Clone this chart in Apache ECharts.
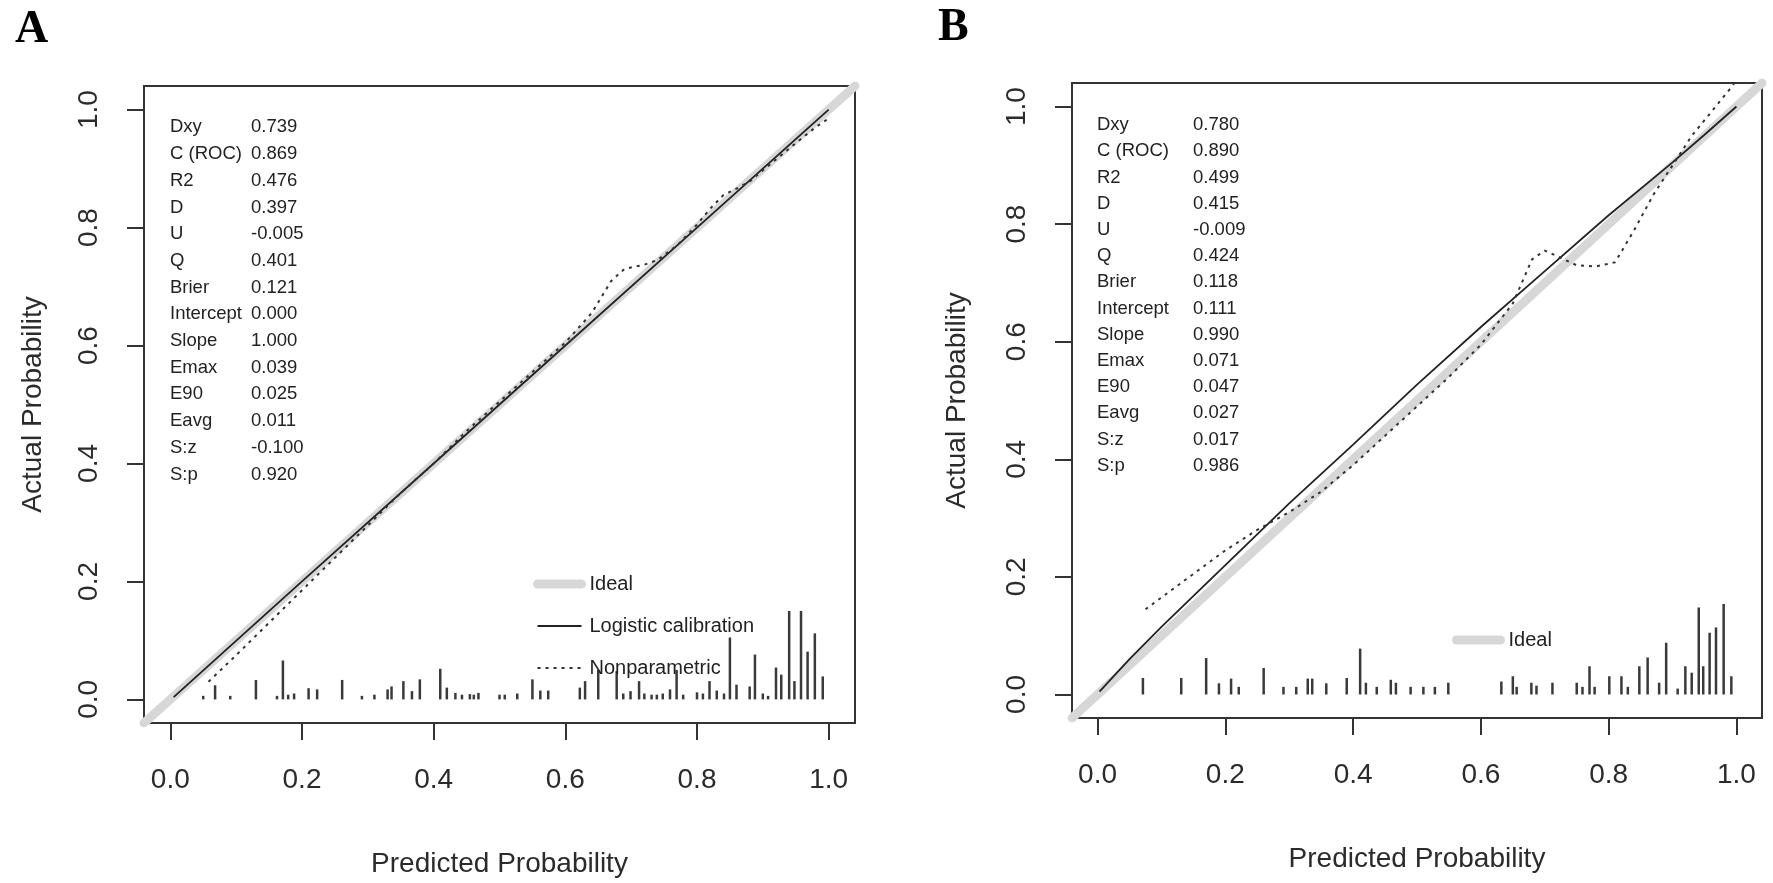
<!DOCTYPE html>
<html>
<head>
<meta charset="utf-8">
<title>Calibration curves</title>
<script src="https://cdn.jsdelivr.net/npm/echarts@6/dist/echarts.min.js"></script>
<style>
  html, body { margin: 0; padding: 0; background: #fff; }
  #main { width: 1773px; height: 883px; }
</style>
</head>
<body>
<div id="main"></div>
<script>
// stats printed in the top-left corner of each panel
const statNames = ['Dxy', 'C (ROC)', 'R2', 'D', 'U', 'Q', 'Brier', 'Intercept', 'Slope', 'Emax', 'E90', 'Eavg', 'S:z', 'S:p'];
const statsA = ['0.739', '0.869', '0.476', '0.397', '-0.005', '0.401', '0.121', '0.000', '1.000', '0.039', '0.025', '0.011', '-0.100', '0.920'];
const statsB = ['0.780', '0.890', '0.499', '0.415', '-0.009', '0.424', '0.118', '0.111', '0.990', '0.071', '0.047', '0.027', '0.017', '0.986'];

const tickValues = [0, 0.2, 0.4, 0.6, 0.8, 1.0];
const idealX = [-0.04, 1.04];

// panel A curves [predicted, actual]
const logisticA = [[0.005, 0.004], [0.2, 0.2], [0.4, 0.4], [0.6, 0.6], [0.8, 0.8], [1.0, 1.0]];
const nonparA = [[0.058, 0.03], [0.1, 0.075], [0.15, 0.13], [0.2, 0.185], [0.25, 0.24], [0.3, 0.295],
  [0.35, 0.35], [0.4, 0.4], [0.45, 0.455], [0.5, 0.505], [0.55, 0.555], [0.6, 0.605], [0.64, 0.655],
  [0.67, 0.71], [0.69, 0.73], [0.72, 0.737], [0.74, 0.745], [0.77, 0.77], [0.8, 0.805], [0.82, 0.832],
  [0.84, 0.855], [0.86, 0.866], [0.88, 0.878], [0.9, 0.897], [0.95, 0.943], [0.98, 0.97], [1.0, 0.985]];

// panel B curves
const logisticB = [[0.003, 0.005], [0.05, 0.06], [0.1, 0.115], [0.2, 0.22], [0.3, 0.325], [0.4, 0.425],
  [0.5, 0.527], [0.6, 0.625], [0.7, 0.72], [0.8, 0.815], [0.9, 0.905], [0.95, 0.952], [1.0, 1.0]];
const nonparB = [[0.075, 0.145], [0.1, 0.165], [0.15, 0.205], [0.2, 0.245], [0.25, 0.28], [0.3, 0.31],
  [0.35, 0.345], [0.4, 0.39], [0.45, 0.44], [0.5, 0.49], [0.55, 0.54], [0.6, 0.595], [0.65, 0.665],
  [0.68, 0.74], [0.7, 0.755], [0.72, 0.745], [0.75, 0.73], [0.78, 0.728], [0.81, 0.735], [0.84, 0.79],
  [0.87, 0.85], [0.9, 0.9], [0.93, 0.95], [0.96, 0.99], [0.99, 1.03], [1.0, 1.045]];

// spike histogram of predicted probabilities (position, height)
const histXA = [0.05, 0.068, 0.091, 0.13, 0.162, 0.171, 0.179, 0.188, 0.21, 0.223, 0.261, 0.291, 0.31, 0.33,
  0.336, 0.354, 0.367, 0.379, 0.41, 0.42, 0.433, 0.443, 0.455, 0.461, 0.468, 0.5, 0.508, 0.527, 0.55,
  0.562, 0.574, 0.622, 0.63, 0.65, 0.678, 0.688, 0.699, 0.712, 0.72, 0.731, 0.739, 0.748, 0.759, 0.769,
  0.779, 0.8, 0.809, 0.819, 0.83, 0.841, 0.85, 0.86, 0.88, 0.888, 0.9, 0.908, 0.92, 0.928, 0.94, 0.948,
  0.958, 0.968, 0.979, 0.991];
const histHA = [0.006, 0.024, 0.006, 0.033, 0.006, 0.066, 0.008, 0.01, 0.019, 0.017, 0.033, 0.006, 0.008, 0.017,
  0.022, 0.031, 0.014, 0.034, 0.052, 0.02, 0.011, 0.008, 0.009, 0.008, 0.011, 0.008, 0.008, 0.01, 0.034,
  0.015, 0.015, 0.02, 0.031, 0.05, 0.048, 0.01, 0.014, 0.031, 0.01, 0.008, 0.008, 0.01, 0.017, 0.05,
  0.008, 0.012, 0.01, 0.031, 0.015, 0.01, 0.105, 0.025, 0.022, 0.076, 0.01, 0.006, 0.054, 0.042, 0.15, 0.031,
  0.15, 0.081, 0.112, 0.039];
const histXB = [0.071, 0.131, 0.17, 0.19, 0.209, 0.221, 0.26, 0.291, 0.311, 0.329, 0.336, 0.358, 0.39, 0.411,
  0.42, 0.437, 0.459, 0.467, 0.49, 0.51, 0.528, 0.549, 0.632, 0.65, 0.656, 0.679, 0.687, 0.712, 0.75,
  0.759, 0.77, 0.778, 0.801, 0.82, 0.83, 0.848, 0.861, 0.879, 0.89, 0.908, 0.92, 0.93, 0.941, 0.948,
  0.958, 0.968, 0.98, 0.992];
const histHB = [0.028, 0.028, 0.062, 0.019, 0.027, 0.013, 0.045, 0.013, 0.013, 0.027, 0.027, 0.019, 0.028, 0.078,
  0.02, 0.013, 0.025, 0.02, 0.013, 0.013, 0.013, 0.02, 0.022, 0.031, 0.013, 0.02, 0.015, 0.02, 0.02,
  0.013, 0.048, 0.013, 0.031, 0.031, 0.013, 0.048, 0.063, 0.02, 0.088, 0.01, 0.048, 0.037, 0.148, 0.048,
  0.105, 0.114, 0.154, 0.031];

const font = '"Liberation Sans", Arial, sans-serif';
const ink = '#2b2b2b';

function makeX(gridIndex) {
  return {
    type: 'value', gridIndex: gridIndex, min: -0.04, max: 1.04,
    name: 'Predicted Probability', nameLocation: 'middle', nameGap: 127,
    nameTextStyle: { fontFamily: font, fontSize: 28, color: ink },
    axisLine: { show: false, onZero: false },
    axisTick: { show: true, length: 17, customValues: tickValues, lineStyle: { color: '#333', width: 2 } },
    axisLabel: { customValues: tickValues, margin: 43, fontFamily: font, fontSize: 28, color: ink,
      formatter: v => v.toFixed(1) },
    splitLine: { show: false }
  };
}

function makeY(gridIndex, gap) {
  return {
    type: 'value', gridIndex: gridIndex, min: -0.04, max: 1.04,
    name: 'Actual Probability', nameLocation: 'middle', nameGap: gap,
    nameTextStyle: { fontFamily: font, fontSize: 28, color: ink },
    axisLine: { show: false, onZero: false },
    axisTick: { show: true, length: 17, customValues: tickValues, lineStyle: { color: '#333', width: 2 } },
    axisLabel: { customValues: tickValues, rotate: 90, margin: 41, fontFamily: font, fontSize: 28, color: ink,
      formatter: v => v.toFixed(1) },
    splitLine: { show: false }
  };
}

function spikes(xs, hs, idx) {
  return {
    type: 'custom', xAxisIndex: idx, yAxisIndex: idx, silent: true, z: 3,
    data: xs.map((x, i) => [x, hs[i]]),
    renderItem: (params, api) => {
      const p0 = api.coord([api.value(0), 0]);
      const p1 = api.coord([api.value(0), api.value(1)]);
      return { type: 'line', shape: { x1: p0[0], y1: p0[1], x2: p1[0], y2: p1[1] },
        style: { stroke: '#3a3a3a', lineWidth: 2.5 } };
    }
  };
}

function curves(idx, logistic, nonpar) {
  const common = { type: 'line', xAxisIndex: idx, yAxisIndex: idx, symbol: 'none', silent: true,
    itemStyle: { color: 'rgba(0,0,0,0)' } };
  return [
    Object.assign({ name: 'Ideal', z: 2, data: idealX.map(v => [v, v]),
      lineStyle: { color: '#d7d7d7', width: 9, cap: 'round' } }, common),
    Object.assign({ name: 'Logistic calibration', z: 4, data: logistic,
      lineStyle: { color: '#222', width: 1.8 } }, common),
    Object.assign({ name: 'Nonparametric', z: 4, data: nonpar,
      lineStyle: { color: '#333', width: 2, type: [3, 5] } }, common)
  ];
}

function statText(left, top, lines, lh) {
  return { type: 'text', left: left, top: top, z: 10,
    style: { text: lines.join('\n'), fontFamily: font, fontSize: 18.5, lineHeight: lh, fill: '#222' } };
}

const legendBase = {
  orient: 'vertical', itemWidth: 44, itemHeight: 14, selectedMode: false,
  itemStyle: { color: 'rgba(0,0,0,0)', borderWidth: 0, opacity: 0 },
  lineStyle: { width: 'inherit' },
  textStyle: { fontFamily: font, fontSize: 20, color: '#222', padding: [0, 0, 0, 3] }
};

const chart = echarts.init(document.getElementById('main'));
chart.setOption({
  backgroundColor: '#fff',
  animation: false,
  title: [
    { text: 'A', left: 10, top: 2, textStyle: { fontFamily: '"Liberation Serif", serif', fontWeight: 'bold', fontSize: 46, color: '#000' } },
    { text: 'B', left: 933, top: 0, textStyle: { fontFamily: '"Liberation Serif", serif', fontWeight: 'bold', fontSize: 46, color: '#000' } }
  ],
  grid: [
    { left: 144, top: 86, width: 711, height: 637, show: true, borderColor: '#333', borderWidth: 2 },
    { left: 1072, top: 83, width: 690, height: 635, show: true, borderColor: '#333', borderWidth: 2 }
  ],
  xAxis: [makeX(0), makeX(1)],
  yAxis: [makeY(0, 97), makeY(1, 101)],
  legend: [
    Object.assign({ data: ['Ideal', 'Logistic calibration', 'Nonparametric'], left: 528, top: 569, itemGap: 22 }, legendBase),
    Object.assign({ data: ['Ideal'], left: 1447, top: 625 }, legendBase)
  ],
  graphic: [
    statText(170, 114, statNames, 26.7), statText(251, 114, statsA, 26.7),
    statText(1097, 112, statNames, 26.2), statText(1193, 112, statsB, 26.2)
  ],
  series: [
    ...curves(0, logisticA, nonparA), spikes(histXA, histHA, 0),
    ...curves(1, logisticB, nonparB), spikes(histXB, histHB, 1)
  ]
});
</script>
</body>
</html>
